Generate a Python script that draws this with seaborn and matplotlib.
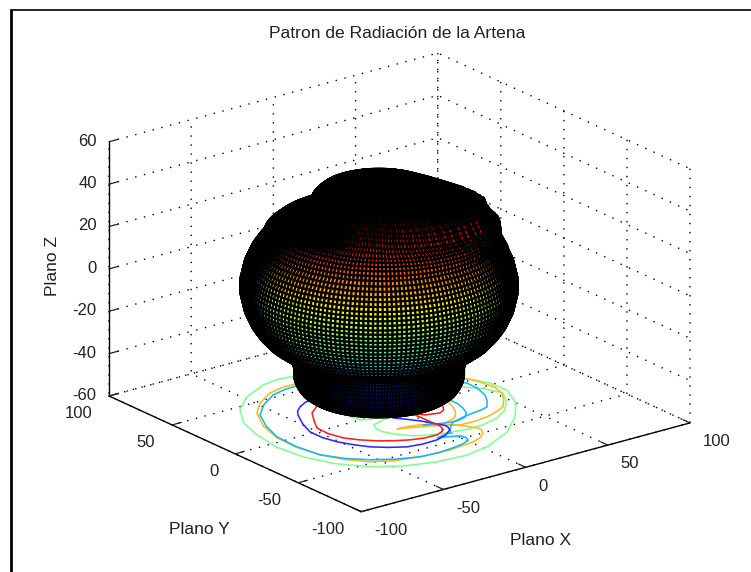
import numpy as np
import matplotlib
matplotlib.use("Agg")
import matplotlib.pyplot as plt
from matplotlib.lines import Line2D
from mpl_toolkits.mplot3d import proj3d
import seaborn as sns

sns.set_theme(style="white")
plt.rcParams["font.family"] = ["Liberation Sans", "DejaVu Sans"]
plt.rcParams["axes.unicode_minus"] = False

TITLE = "Patron de Radiación de la Artena"
X_LABEL, Y_LABEL, Z_LABEL = "Plano X", "Plano Y", "Plano Z"
XY_TICKS = [-100, -50, 0, 50, 100]
Z_TICKS = [-60, -40, -20, 0, 20, 40, 60]

# Radiation solid: one row per latitude ring
ring_z = [-52, -52, -52, -52, -52, -51, -49, -47, -45, -43, -41, -39, -37, -35, -33, -31, -29, -27, -25,
          -23, -21, -19, -17, -15, -13, -11, -9, -7, -5, -3, -1, 1, 3, 5, 7, 9, 11, 13, 15, 17, 19, 21,
          23, 25, 26.5, 28, 29, 30, 31, 33, 35, 37, 39, 41, 43, 44.5, 46, 47, 47.5, 48]
ring_r = [0, 8, 16, 24, 31, 35, 38, 39.5, 40.5, 41, 41, 41, 41.5, 42.5, 44, 46, 49, 52, 55,
          57, 59, 60.5, 62, 63, 64, 65, 65.5, 66, 66.5, 67, 67, 67, 66.5, 66, 65.5, 65, 64, 63, 62, 60.5, 59, 57,
          56, 55, 53, 51, 48, 43, 38, 35.5, 34, 33.5, 33, 32, 30, 28, 24, 18, 11, 0]
ring_lobe = [0, 0, 0, 0, 0, 0, 0, 0, 0, 0, 0, 0, 0, 0, 0, 0, 0, 0, 0,
             0, 0, 0, 0, 0, 0, 0, 0, 0, 0, 0, 0, 0, 0, 0, 0, 0, 0, 0, 0.02, 0.04, 0.06, 0.1,
             0.15, 0.2, 0.3, 0.4, 0.5, 0.7, 0.9, 1, 1, 1, 0.7, 0.4, 0.2, 0, 0, 0, 0, 0]
# Extra radius of the upper lobes, one value per 5 degrees of azimuth
sector_extra = [12, 10, 8, 6, 4, 3, 3, 4, 5, 6, 6, 5, 4, 3, 2, 1, 0, 0, 0, 0, 0, 0, 0, 0,
                0, 0, 0, 0, 0, 0, 0, 0, 0, 0, 0, 0, 0, 0, 0, 0, 0, 1, 2, 3, 3, 3, 4, 5,
                6, 7, 8, 9, 10, 11, 12, 13, 14, 15, 16, 17, 18, 18, 18, 18, 18, 18, 18, 17, 16, 15, 14, 13]
centre_x, centre_y = -9.0, 4.5

# Contours on the floor of the box
green1_x = [-12.1, -21, -31.9, -48, -61.5, -71, -75.8, -78.5, -76.5, -70, -59.1, -45, -29.3, -13, 2.3, 22, 38, 50, 57.4, 56.5, 50.5, 41, 30, 20, 10, -12.1]
green1_y = [67.1, 68.5, 66.7, 58.5, 46.4, 31, 14.2, -4.5, -23.2, -40, -53.7, -63, -68, -69.5, -66.4, -56.5, -42.1, -27, -10.4, 3, 15.5, 34, 50, 59, 65, 67.1]
green2_x = [-24.5, -25, -23.8, -20, -15.7, -11, -7.1, -15, -22.7, -25, -25, -22, -16.8, -9, -1.4, 9, 19.1, 30, 40, 48, 53.3, 50, 43, 20, -10]
green2_y = [12.8, 6.5, 0.2, -2, -2.6, -4, -5.8, -6.5, -9.3, -14, -19.5, -26, -32.8, -37, -39.5, -41.5, -41.3, -38, -31.5, -22, -12.5, -3, 5.7, 15, 15]
orange1_x = [-16.1, -26, -35.9, -48, -57.5, -66, -70.6, -71, -68.3, -63, -55, -44, -31.6, -15, 1.2, 8, 12.4, 14.5, 14.3, 11, 6.4, 0, -6.7, -12, -17.2,
             -11, -5, 3, 10.3, 19, 27.3, 35, 41.7, 48, 53, 55, 54, 53, 50.5, 41, 30, 20, 8, -4, -16.1]
orange1_y = [58.1, 58.5, 56, 48, 38.1, 22, 5, -11, -26, -38, -48.3, -54.5, -57.6, -59, -56.9, -54, -50, -46, -42.9, -36.5, -31.6, -28, -25, -22.5, -20.5,
             -21, -22.8, -28.5, -34.6, -35, -33.8, -31, -27.7, -20, -12.2, -4, 4.3, 10, 15.5, 30, 42, 50, 55, 57.5, 58.1]
orange2_x = [24.2, 24.5, 22.6, 19.5, 15.1, 11, 6.2]
orange2_y = [-2.2, -7.5, -13, -19, -24.4, -26.5, -28]
cyan1_x = [-17.7, -27, -36.3, -48, -58, -65, -69.8, -70.5, -68.3, -62, -53.3, -43, -31.6, -21, -11.5, -4, 0.8, 2, 1.2, -4, -9.3, -5, -0.3, 5, 10.1,
           18, 25.3, 31, 35.6, 41, 44.8, 47.5, 47.9, 39, 28, 18, 6, -6, -17.7]
cyan1_y = [55.9, 55.5, 52.9, 45, 35, 21, 6.1, -10, -26, -37, -46.1, -53, -57.6, -58.5, -57.5, -56, -53.2, -50, -46.6, -44, -42, -41, -40.3, -34, -29.3,
           -27, -25.4, -24.5, -23, -16, -9.4, 0, 9, 25, 38, 46, 52, 55, 55.9]
cyan2_x = [27.2, 27, 25.5, 23, 18.9, 14.5, 10.1, 3, -3.9]
cyan2_y = [-4.5, -11, -17, -23, -27.4, -29, -29.3, -27, -23.7]
blue_x = [-22.8, -30, -36, -40.5, -43.5, -49, -53, -53, -50.9, -47, -42.5, -36, -28.3, -20, -11, -4, 2.2, 4, 3.8, 1, -1.7, -6, -9.6, 5, -10, -22.8]
blue_y = [37.3, 35.5, 32, 28, 23.8, 13, 1.9, -8, -16.9, -25, -32, -38, -42.9, -44.5, -44.1, -41.5, -37.1, -33, -29.6, -24, -18.5, -12, -7.3, 15, 35, 37.3]
red_x = [-23.1, -30, -36.4, -42, -47, -47.5, -45.3, -41, -34.8, -28, -21.4, -14, -6.8, -2, 0.9, 2, 1.6, 1.5, 1.1, 5.2, 12.6, 16.5, 18.8, 21, 22.6]
red_y = [30.6, 27, 21.9, 13, 4.2, -5, -14.4, -21, -27.6, -32.5, -36.2, -38.5, -38.7, -36.5, -32.6, -28.5, -24.5, -15, -6.9, -13.5, -15.7, -13.5, -10.1, -5.5, -1]

contours = [(green1_x, green1_y, "#80ff90"), (green2_x, green2_y, "#80ff90"),
            (orange1_x, orange1_y, "#ffb81c"), (orange2_x, orange2_y, "#ffb81c"),
            (cyan1_x, cyan1_y, "#10b8ff"), (cyan2_x, cyan2_y, "#10b8ff"),
            (blue_x, blue_y, "#2a2aff"), (red_x, red_y, "#ff1e1e")]

W, H = 751, 572
fig = plt.figure(figsize=(W / 100, H / 100), dpi=100, facecolor="white")
ax = fig.add_axes([0.1, 0.1, 0.8, 0.8], projection="3d", proj_type="ortho", computed_zorder=False)
ax.view_init(elev=20.6, azim=-127.5)
ax.set_box_aspect((415, 415, 272))
ax.set_xlim(-100, 100)
ax.set_ylim(-100, 100)
ax.set_zlim(-60, 60)
ax.set_xticks(XY_TICKS)
ax.set_yticks(XY_TICKS)
ax.set_zticks(Z_TICKS)
ax.patch.set_alpha(0)

for axis in (ax.xaxis, ax.yaxis, ax.zaxis):
    axis.pane.set_visible(False)
    axis.line.set_color("black")
    axis.line.set_linewidth(1.0)
    axis._axinfo["grid"].update(color="black", linewidth=1.0, linestyle=(0, (1, 5.5)))
    axis._axinfo["tick"].update(inward_factor=0.0, outward_factor=0.35, linewidth={True: 0.9, False: 0.5})
ax.grid(True)
ax.tick_params(axis="x", labelsize=12, colors="#222222", pad=4)
ax.tick_params(axis="y", labelsize=12, colors="#222222", pad=4)
ax.tick_params(axis="z", labelsize=12, colors="#222222", pad=-3)
for t in ax.xaxis.get_major_ticks():
    t.label1.set_ha("left")
    t.label1.set_va("center")
for t in ax.yaxis.get_major_ticks():
    t.label1.set_ha("right")
    t.label1.set_va("center")
for t in ax.zaxis.get_major_ticks():
    t.label1.set_ha("right")
    t.label1.set_va("center")

# Fit the box to the reference's pixel corners
targets = np.array([[109, H - 396], [690, H - 423]], float)
corners = [(-100, 100, -60), (100, -100, -60)]
pos = [0.1 * W, 0.1 * H, 0.8 * W]
for _ in range(4):
    ax.set_position([pos[0] / W, pos[1] / H, pos[2] / W, pos[2] / H])
    ax.apply_aspect()
    M = ax.get_proj()
    pts = []
    for c in corners:
        px, py, _z = proj3d.proj_transform(*c, M)
        pts.append(ax.transData.transform((px, py)))
    pts = np.array(pts)
    k = (targets[1, 0] - targets[0, 0]) / (pts[1, 0] - pts[0, 0])
    pos[2] *= k
    pos[0] = targets[0, 0] - (pts[0, 0] - pos[0]) * k
    pos[1] = targets[0, 1] - (pts[0, 1] - pos[1]) * k
ax.set_position([pos[0] / W, pos[1] / H, pos[2] / W, pos[2] / H])

# Floor contours
for cx, cy, col in contours:
    ax.plot(cx, cy, zs=-60, zdir="z", color=col, lw=1.15, zorder=2)

# Mesh
n_col = 180
theta = np.deg2rad(np.arange(n_col + 1) * 360.0 / n_col)
extra = np.array(sector_extra, float)[(np.arange(n_col + 1) * len(sector_extra) // n_col) % len(sector_extra)]
R = np.outer(np.array(ring_r), np.ones_like(theta)) + np.outer(np.array(ring_lobe), extra)
R[0, :] = 0
R[-1, :] = 0
Xs = centre_x + R * np.cos(theta)
Ys = centre_y + R * np.sin(theta)
Zs = np.outer(np.array(ring_z, float), np.ones_like(theta))
jet = matplotlib.colormaps["jet"]
fc = jet(np.clip((Zs + 54.0) / 95.0, 0, 1))
ax.plot_surface(Xs, Ys, Zs, rstride=1, cstride=1, facecolors=fc, edgecolor="black",
                linewidth=1.55, shade=False, antialiased=True, zorder=3)

for axis in (ax.xaxis, ax.yaxis, ax.zaxis):
    axis.set_rotate_label(False)
ax.xaxis._axinfo["label"].update(ha="right", va="top")
ax.yaxis._axinfo["label"].update(ha="left", va="top")
ax.set_xlabel(X_LABEL, fontsize=12.5, color="#222222", labelpad=21, rotation=0)
ax.set_ylabel(Y_LABEL, fontsize=12.5, color="#222222", labelpad=26, rotation=0)
ax.set_zlabel(Z_LABEL, fontsize=12.5, color="#222222", labelpad=2, rotation=90)
fig.text(397.5 / W, 1 - 33 / H, TITLE, ha="center", va="center", fontsize=12.6, color="#222222")

fig.add_artist(Line2D([11 / W, 11 / W], [0, 1 - 10 / H], color="black", lw=2.0))
fig.add_artist(Line2D([11 / W, 1], [1 - 10 / H, 1 - 10 / H], color="black", lw=1.2))

fig.savefig("out.png", dpi=100)
